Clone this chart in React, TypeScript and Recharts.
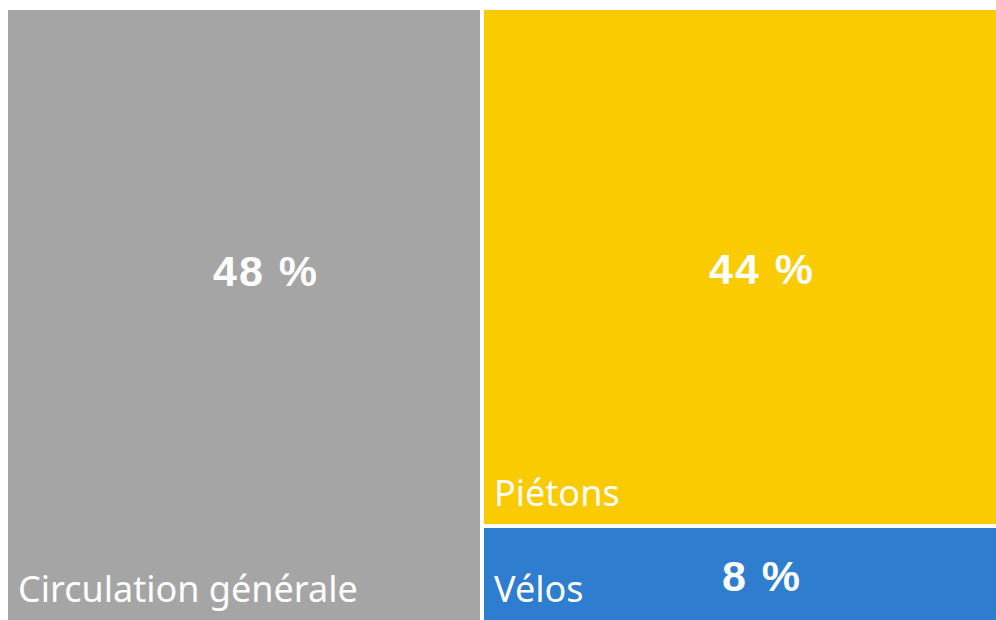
import React from "react"
import { Treemap } from "recharts"

const categories = ["Circulation générale", "Piétons", "Vélos"]
const shares = [48, 44, 8]
const valueLabels = ["48 %", "44 %", "8 %"]
const colors = ["#A5A5A5", "#F9CB00", "#2E7DCF"]

const W = 988
const H = 610
const GAP = 2

const data = categories.map((name, i) => ({
  name,
  size: shares[i],
}))

function Cell(props: any) {
  const { x, y, width, height, depth, name } = props
  if (depth !== 1) return null
  const i = categories.indexOf(name)
  // gaps only on inner edges
  const left = x > 1 ? GAP : 0
  const top = y > 1 ? GAP : 0
  const right = x + width < W - 1 ? GAP : 0
  const bottom = y + height < H - 1 ? GAP : 0
  const rx = x + left
  const ry = y + top
  const rw = width - left - right
  const rh = height - top - bottom
  const valueY = ry + Math.min(rh / 2 + 17, 276)
  return (
    <g>
      <rect x={rx} y={ry} width={rw} height={rh} fill={colors[i]} stroke="none" />
      <text
        x={rx + rw / 2 + 22}
        y={valueY}
        textAnchor="middle"
        fill="#fff"
        fontFamily="'Liberation Sans', Arial, sans-serif"
        fontWeight="bold"
        fontSize={43}
        letterSpacing={2}
      >
        {valueLabels[i]}
      </text>
      <text
        x={rx + 10}
        y={ry + rh - 18}
        fill="#fff"
        fontFamily="'Noto Sans', sans-serif"
        fontSize={36}
      >
        {name}
      </text>
    </g>
  )
}

export default function App() {
  return (
    <div style={{ position: "absolute", left: 8, top: 10, width: W, height: H }}>
      <Treemap
        width={W}
        height={H}
        data={data}
        dataKey="size"
        nameKey="name"
        aspectRatio={1}
        isAnimationActive={false}
        content={<Cell />}
      />
    </div>
  )
}
